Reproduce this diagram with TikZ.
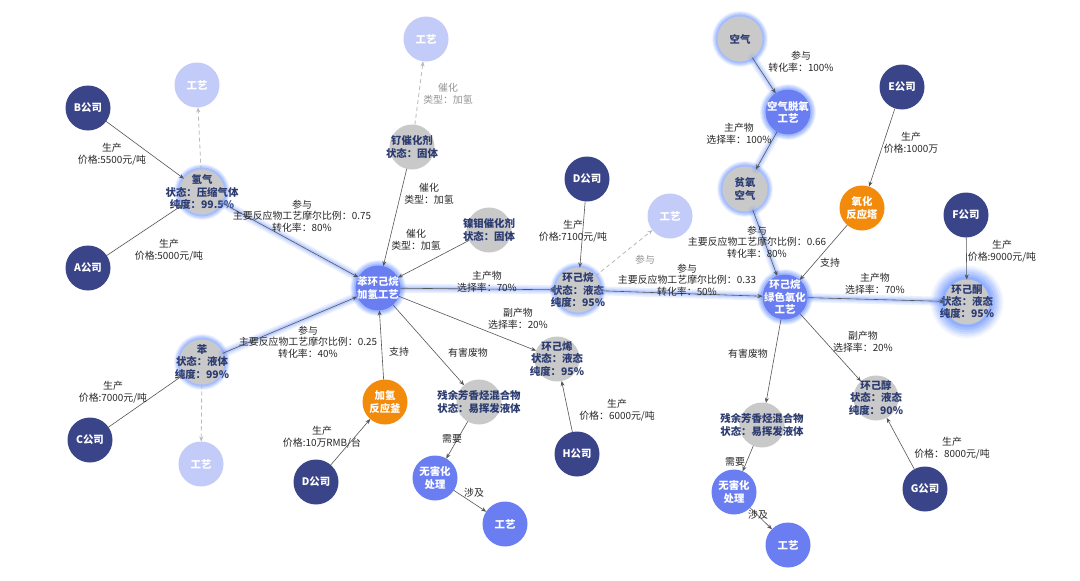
\documentclass[tikz,border=0pt]{standalone}
\usepackage{fontspec}
\setmainfont{Noto Sans CJK SC}
\usetikzlibrary{arrows.meta}
\definecolor{navy}{RGB}{58,68,136}
\definecolor{lav}{RGB}{195,203,249}
\definecolor{bluen}{RGB}{106,126,242}
\definecolor{orangen}{RGB}{242,139,12}
\definecolor{grayn}{RGB}{201,201,201}
\definecolor{navytext}{RGB}{43,59,112}
\definecolor{glowc}{RGB}{110,150,255}
\definecolor{labc}{RGB}{40,40,40}
\definecolor{edgec}{RGB}{85,85,85}
\definecolor{dashc}{RGB}{185,185,185}
\tikzset{
  nd/.style={circle, minimum size=45pt, inner sep=0pt, outer sep=0pt},
  company/.style={nd, fill=navy},
  lightn/.style={nd, fill=lav},
  grayc/.style={nd, fill=grayn},
  bluec/.style={nd, fill=bluen},
  orangec/.style={nd, fill=orangen},
  glow/.style={preaction={draw=glowc, line width=11pt, draw opacity=.10},
               preaction={draw=glowc, line width=9pt, draw opacity=.15},
               preaction={draw=glowc, line width=7pt, draw opacity=.22},
               preaction={draw=glowc, line width=4pt, draw opacity=.35}},
  bigglow/.style={preaction={draw=glowc, line width=28pt, draw opacity=.08},
                  preaction={draw=glowc, line width=24pt, draw opacity=.12},
                  preaction={draw=glowc, line width=20pt, draw opacity=.16},
                  preaction={draw=glowc, line width=16pt, draw opacity=.2},
                  preaction={draw=glowc, line width=11pt, draw opacity=.28},
                  preaction={draw=glowc, line width=6pt, draw opacity=.35}},
  wt/.style={text=white, font=\bfseries\fontsize{10.4}{12.2}\selectfont, align=center, inner sep=0pt},
  dt/.style={text=navytext, font=\bfseries\fontsize{10.4}{12.2}\selectfont, align=center, inner sep=0pt},
  elab/.style={text=labc, font=\fontsize{9.9}{11.6}\selectfont, align=center, inner sep=0pt},
  glab/.style={elab, text=dashc!80!black},
  edge/.style={draw=edgec, line width=0.6pt, -{Stealth[length=5pt,width=4pt]}},
  dedge/.style={draw=dashc, line width=0.8pt, dash pattern=on 4pt off 3pt, -{Stealth[length=5pt,width=4pt]}},
  gline/.style={draw=glowc, draw opacity=.14, line width=9pt, line cap=round,
                preaction={draw=glowc, draw opacity=.14, line width=6pt},
                postaction={draw=glowc, draw opacity=.25, line width=3.5pt}},
}
\begin{document}
\begin{tikzpicture}[x=1pt,y=-1pt]
\useasboundingbox[fill=white] (0,0) rectangle (1080,581);
% ---- nodes ----
\node[company, label={[wt]center:B公司}] (B) at (88,108) {};
\node[company, label={[wt]center:A公司}] (A) at (88,268) {};
\node[company, label={[wt]center:C公司}] (C) at (90,440) {};
\node[lightn, label={[wt]center:工艺}] (g1) at (197,85) {};
\node[grayc, glow, label={[dt]center:{氢气\\状态：压缩气体\\纯度：99.5\%}}] (h2) at (202,192) {};
\node[grayc, glow, label={[dt]center:{苯\\状态：液体\\纯度：99\%}}] (ben) at (202,362) {};
\node[lightn, label={[wt]center:工艺}] (g2) at (201,464) {};
\node[lightn, label={[wt]center:工艺}] (g3) at (426,39) {};
\node[grayc, label={[dt]center:{钌催化剂\\状态：固体}}] (ru) at (412,147) {};
\node[grayc, label={[dt]center:{镍钼催化剂\\状态：固体}}] (ni) at (489,230) {};
\node[bluec, glow, label={[wt]center:{苯环己烷\\加氢工艺}}] (bhp) at (378,288) {};
\node[orangec, label={[wt]center:{加氢\\反应釜}}] (fyf) at (385,402) {};
\node[company, label={[wt]center:D公司}] (D2) at (316,482) {};
\node[grayc, label={[dt]center:{残余芳香烃混合物\\状态：易挥发液体}}] (res1) at (479,402) {};
\node[bluec, label={[wt]center:{无害化\\处理}}] (wh1) at (435,478) {};
\node[bluec, label={[wt]center:工艺}] (g4) at (505,524) {};
\node[grayc, label={[dt]center:{环己烯\\状态：液态\\纯度：95\%}}] (hjx) at (557,359) {};
\node[company, label={[wt]center:H公司}] (H) at (577,454) {};
\node[company, label={[wt]center:D公司}] (D1) at (587,179) {};
\node[grayc, glow, label={[dt]center:{环己烷\\状态：液态\\纯度：95\%}}] (hjw) at (578,290) {};
\node[lightn, label={[wt]center:工艺}] (g5) at (670,216) {};
\node[grayc, glow, label={[dt]center:空气}] (air) at (740,39) {};
\node[bluec, glow, label={[wt]center:{空气脱氧\\工艺}}] (deox) at (788,112) {};
\node[grayc, glow, label={[dt]center:{贫氧\\空气}}] (poor) at (745,189) {};
\node[company, label={[wt]center:E公司}] (E) at (902,87) {};
\node[orangec, label={[wt]center:{氧化\\反应塔}}] (yht) at (862,208) {};
\node[company, label={[wt]center:F公司}] (F) at (966,215) {};
\node[bluec, glow, label={[wt]center:{环己烷\\绿色氧化\\工艺}}] (gox) at (785,297) {};
\node[grayc, bigglow, label={[dt]center:{环己酮\\状态：液态\\纯度：95\%}}] (hjt) at (967,302) {};
\node[grayc, label={[dt]center:{残余芳香烃混合物\\状态：易挥发液体}}] (res2) at (762,425) {};
\node[bluec, label={[wt]center:{无害化\\处理}}] (wh2) at (734,492) {};
\node[bluec, label={[wt]center:工艺}] (g6) at (788,545) {};
\node[grayc, label={[dt]center:{环己醇\\状态：液态\\纯度：90\%}}] (hjc) at (876,398) {};
\node[company, label={[wt]center:G公司}] (G) at (925,489) {};
% ---- glow under main flow edges ----
\draw[gline] (h2) -- (bhp);
\draw[gline] (ben) -- (bhp);
\draw[gline] (bhp) -- (hjw);
\draw[gline] (hjw) -- (gox);
\draw[gline] (gox) -- (hjt);
\draw[gline] (air) -- (deox);
\draw[gline] (deox) -- (poor);
\draw[gline] (poor) -- (gox);
% ---- edges ----
\draw[edge] (B) -- (h2);
\draw[edge] (A) -- (h2);
\draw[edge] (C) -- (ben);
\draw[dedge] (h2) -- (g1);
\draw[dedge] (ben) -- (g2);
\draw[edge] (h2) -- (bhp);
\draw[edge] (ben) -- (bhp);
\draw[dedge] (ru) -- (g3);
\draw[edge] (ru) -- (bhp);
\draw[edge] (ni) -- (bhp);
\draw[edge] (fyf) -- (bhp);
\draw[edge] (D2) -- (fyf);
\draw[edge] (bhp) -- (hjw);
\draw[edge] (bhp) -- (hjx);
\draw[edge] (bhp) -- (res1);
\draw[edge] (res1) -- (wh1);
\draw[edge] (wh1) -- (g4);
\draw[edge] (H) -- (hjx);
\draw[edge] (D1) -- (hjw);
\draw[dedge] (hjw) -- (g5);
\draw[edge] (hjw) -- (gox);
\draw[edge] (air) -- (deox);
\draw[edge] (deox) -- (poor);
\draw[edge] (poor) -- (gox);
\draw[edge] (E) -- (yht);
\draw[edge] (yht) -- (gox);
\draw[edge] (gox) -- (hjt);
\draw[edge] (F) -- (hjt);
\draw[edge] (gox) -- (res2);
\draw[edge] (gox) -- (hjc);
\draw[edge] (G) -- (hjc);
\draw[edge] (res2) -- (wh2);
\draw[edge] (wh2) -- (g6);
% ---- edge labels ----
\node[elab] (lB) at (112,154) {生产\\价格:5500元/吨};
\node[elab] (lA) at (169,250) {生产\\价格:5000元/吨};
\node[elab] (lC) at (113,392) {生产\\价格:7000元/吨};
\node[elab] (lH2) at (302,216) {参与\\主要反应物工艺摩尔比例：0.75\\转化率：80\%};
\node[elab] (lBen) at (308,342) {参与\\主要反应物工艺摩尔比例：0.25\\转化率：40\%};
\node[glab] (lRu1) at (448,94) {催化\\类型：加氢};
\node[elab] (lRu2) at (429,194) {催化\\类型：加氢};
\node[elab] (lNi) at (416,240) {催化\\类型：加氢};
\node[elab] (lM1) at (487,282) {主产物\\选择率：70\%};
\node[elab] (lS1) at (518,319) {副产物\\选择率：20\%};
\node[elab] (lW1) at (468,353) {有害废物};
\node[elab] (lSup1) at (399,352) {支持};
\node[elab] (lD2) at (322,437) {生产\\价格:10万RMB/台};
\node[elab] (lN1) at (452,439) {需要};
\node[elab] (lI1) at (474,493) {涉及};
\node[elab] (lH) at (617,410) {生产\\价格：6000元/吨};
\node[elab] (lD1) at (573,231) {生产\\价格:7100元/吨};
\node[glab] (lP) at (645,260) {参与};
\node[elab] (lCy) at (687,280) {参与\\主要反应物工艺摩尔比例：0.33\\转化率：50\%};
\node[elab] (lAir) at (801,62) {参与\\转化率：100\%};
\node[elab] (lDeox) at (739,134) {主产物\\选择率：100\%};
\node[elab] (lPoor) at (757,242) {参与\\主要反应物工艺摩尔比例：0.66\\转化率：80\%};
\node[elab] (lSup2) at (830,263) {支持};
\node[elab] (lE) at (911,143) {生产\\价格:1000万};
\node[elab] (lM2) at (875,284) {主产物\\选择率：70\%};
\node[elab] (lF) at (1002,251) {生产\\价格:9000元/吨};
\node[elab] (lS2) at (863,342) {副产物\\选择率：20\%};
\node[elab] (lW2) at (748,354) {有害废物};
\node[elab] (lG) at (952,448) {生产\\价格：8000元/吨};
\node[elab] (lN2) at (735,462) {需要};
\node[elab] (lI2) at (758,515) {涉及};
\end{tikzpicture}
\end{document}
